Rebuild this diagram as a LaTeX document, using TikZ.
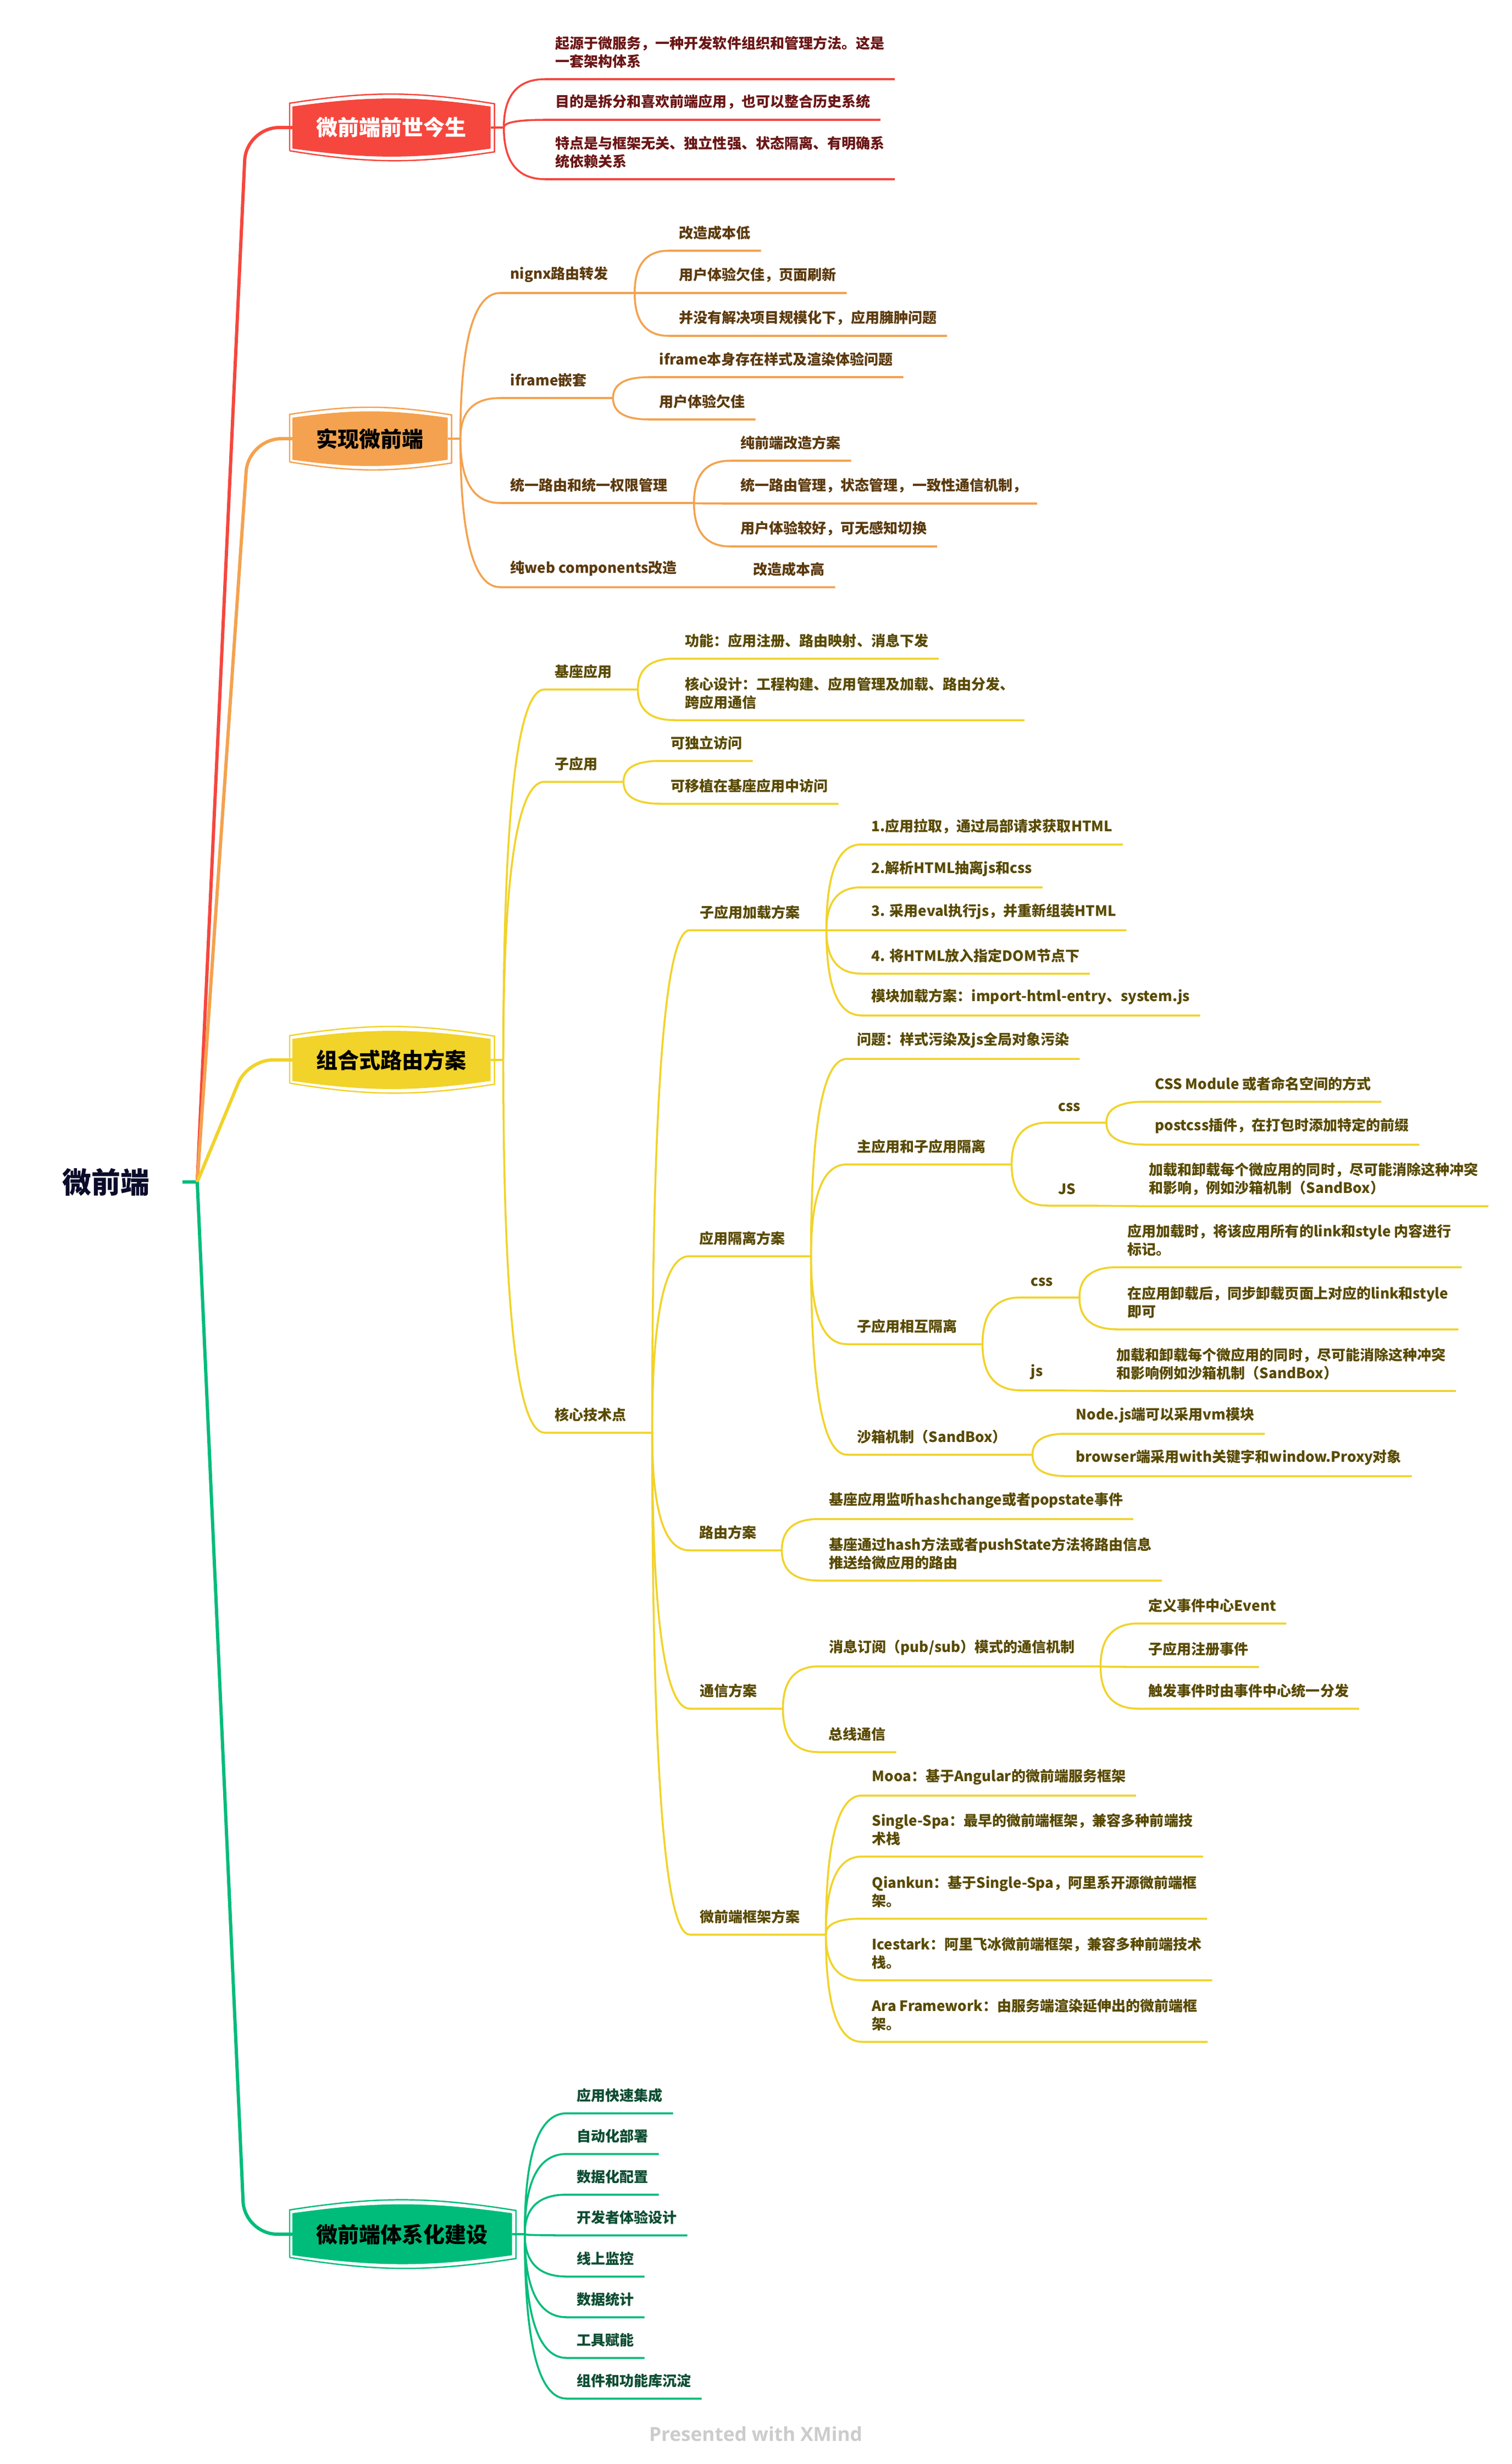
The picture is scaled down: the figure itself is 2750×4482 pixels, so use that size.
\documentclass[tikz,border=0pt]{standalone}
\usepackage{fontspec}
\setmainfont{Noto Sans CJK SC}
\newfontfamily\markfont{Open Sans}
\usepackage{tikz}
\usetikzlibrary{calc,backgrounds}
\definecolor{redline}{HTML}{F5473E}
\definecolor{orangeline}{HTML}{F4A24F}
\definecolor{yellowline}{HTML}{F1D32A}
\definecolor{greenline}{HTML}{00BC7B}
\definecolor{redtext}{HTML}{6B1616}
\definecolor{orangetext}{HTML}{5C3A0E}
\definecolor{yellowtext}{HTML}{594A00}
\definecolor{greentext}{HTML}{0D4D32}
\definecolor{roottext}{HTML}{0B0B2B}
\definecolor{marktext}{HTML}{CCCCCC}

\begin{document}
\begin{tikzpicture}[x=0.01cm, y=-0.01cm,
    topic/.style={anchor=south west, inner xsep=0.18cm, inner ysep=0.19cm, align=left, font=\fontsize{7.4pt}{9.4pt}\selectfont\bfseries},
    rtopic/.style={topic, text=redtext},
    otopic/.style={topic, text=orangetext},
    ytopic/.style={topic, text=yellowtext},
    gtopic/.style={topic, text=greentext},
    main/.style={anchor=west, inner xsep=0.43cm, inner ysep=0pt, minimum height=0.75cm, font=\fontsize{11.1pt}{13pt}\selectfont\bfseries},
    sketch/.style={line width=0.7pt},
    rbr/.style={draw=redline, line width=1pt},
    obr/.style={draw=orangeline, line width=1pt},
    ybr/.style={draw=yellowline, line width=1pt},
    gbr/.style={draw=greenline, line width=1pt},
    trunk/.style={line width=1.7pt, rounded corners=0.6cm},
    link/.style={to path={.. controls ($(\tikztostart)!0.6667!(\tikztostart|-\tikztotarget)$) and ($(\tikztotarget)!0.6667!(\tikztostart|-\tikztotarget)$) .. (\tikztotarget)}}]

    \begin{scope}[on background layer]
      \fill[white] (0,0) rectangle (2750,4482);
    \end{scope}
    \useasboundingbox (0,0) rectangle (2750,4482);

    \node[font=\fontsize{15pt}{18pt}\selectfont\bfseries, text=roottext, inner xsep=0.59cm] (root) at (193,2150) {微前端};
    \coordinate (rootj) at ([xshift=0.27cm]root.east);

    \node[main, text=white] (R0) at (532,232) {微前端前世今生};
    \node[main] (O0) at (532,798) {实现微前端};
    \node[main] (Y0) at (532,1928) {组合式路由方案};
    \node[main] (G0) at (532,4064) {微前端体系化建设};

    \begin{scope}[on background layer]
      \fill[redline] (R0.south west) -- (R0.north west) to[bend left=8] (R0.north east) -- (R0.south east) to[bend left=8] (R0.south west);
      \fill[orangeline] (O0.south west) -- (O0.north west) to[bend left=8] (O0.north east) -- (O0.south east) to[bend left=8] (O0.south west);
      \fill[yellowline] (Y0.south west) -- (Y0.north west) to[bend left=8] (Y0.north east) -- (Y0.south east) to[bend left=8] (Y0.south west);
      \fill[greenline] (G0.south west) -- (G0.north west) to[bend left=8] (G0.north east) -- (G0.south east) to[bend left=8] (G0.south west);
      \draw[redline, sketch] ([shift={(-0.05cm,-0.04cm)}]R0.south west) -- ([shift={(-0.05cm,0.06cm)}]R0.north west) to[bend left=9] ([shift={(0.07cm,0.05cm)}]R0.north east) -- ([shift={(0.07cm,-0.06cm)}]R0.south east) to[bend left=9] ([shift={(-0.05cm,-0.04cm)}]R0.south west);
      \draw[orangeline, sketch] ([shift={(-0.05cm,-0.04cm)}]O0.south west) -- ([shift={(-0.05cm,0.06cm)}]O0.north west) to[bend left=9] ([shift={(0.07cm,0.05cm)}]O0.north east) -- ([shift={(0.07cm,-0.06cm)}]O0.south east) to[bend left=9] ([shift={(-0.05cm,-0.04cm)}]O0.south west);
      \draw[yellowline, sketch] ([shift={(-0.05cm,-0.04cm)}]Y0.south west) -- ([shift={(-0.05cm,0.06cm)}]Y0.north west) to[bend left=9] ([shift={(0.07cm,0.05cm)}]Y0.north east) -- ([shift={(0.07cm,-0.06cm)}]Y0.south east) to[bend left=9] ([shift={(-0.05cm,-0.04cm)}]Y0.south west);
      \draw[greenline, sketch] ([shift={(-0.05cm,-0.04cm)}]G0.south west) -- ([shift={(-0.05cm,0.06cm)}]G0.north west) to[bend left=9] ([shift={(0.07cm,0.05cm)}]G0.north east) -- ([shift={(0.07cm,-0.06cm)}]G0.south east) to[bend left=9] ([shift={(-0.05cm,-0.04cm)}]G0.south west);
    \end{scope}

    \draw[greenline, line width=1.7pt] (root.east) -- (rootj);
    \draw[redline, trunk] (rootj) -- ([xshift=-0.84cm]R0.west) -- (R0.west);
    \draw[orangeline, trunk] (rootj) -- ([xshift=-0.80cm]O0.west) -- (O0.west);
    \draw[yellowline, trunk, rounded corners=0.45cm] (rootj) -- ([xshift=-0.81cm]Y0.west) -- (Y0.west);
    \draw[greenline, trunk] (rootj) -- ([xshift=-0.87cm]G0.west) -- (G0.west);

    % 微前端前世今生
    \coordinate (jR) at ([xshift=0.24cm]R0.east);
    \node[rtopic] (r1) at (992,144) {起源于微服务，一种开发软件组织和管理方法。这是\\一套架构体系};
    \node[rtopic] (r2) at (992,218) {目的是拆分和喜欢前端应用，也可以整合历史系统};
    \node[rtopic] (r3) at (992,326) {特点是与框架无关、独立性强、状态隔离、有明确系\\统依赖关系};

    \draw[rbr] (R0.east) -- (jR);
    \draw[rbr] (jR) to[link] (r1.south west) -- (r1.south east);
    \draw[rbr] (jR) to[link] (r2.south west) -- (r2.south east);
    \draw[rbr] (jR) to[link] (r3.south west) -- (r3.south east);

    % 实现微前端
    \coordinate (jO) at ([xshift=0.23cm]O0.east);
    \node[otopic] (o1) at (910,533) {nignx路由转发};
    \coordinate (jo1) at ([xshift=0.29cm]o1.south east);
    \node[otopic] (o11) at (1217,456) {改造成本低};
    \node[otopic] (o12) at (1217,533) {用户体验欠佳，页面刷新};
    \node[otopic] (o13) at (1217,611) {并没有解决项目规模化下，应用臃肿问题};
    \node[otopic] (o2) at (910,724) {iframe嵌套};
    \coordinate (jo2) at ([xshift=0.29cm]o2.south east);
    \node[otopic] (o21) at (1181,686) {iframe本身存在样式及渲染体验问题};
    \node[otopic] (o22) at (1181,763) {用户体验欠佳};
    \node[otopic] (o3) at (910,915) {统一路由和统一权限管理};
    \coordinate (jo3) at ([xshift=0.29cm]o3.south east);
    \node[otopic] (o31) at (1329,838) {纯前端改造方案};
    \node[otopic] (o32) at (1329,916) {统一路由管理，状态管理，一致性通信机制，};
    \node[otopic] (o33) at (1329,994) {用户体验较好，可无感知切换};
    \node[otopic] (o4) at (910,1068) {纯web components改造};
    \node[otopic] (o41) at (1352,1068) {改造成本高};

    \draw[obr] (O0.east) -- (jO);
    \draw[obr] (jO) to[link] (o1.south west) -- (o1.south east) -- (jo1);
    \draw[obr] (jo1) to[link] (o11.south west) -- (o11.south east);
    \draw[obr] (jo1) to[link] (o12.south west) -- (o12.south east);
    \draw[obr] (jo1) to[link] (o13.south west) -- (o13.south east);
    \draw[obr] (jO) to[link] (o2.south west) -- (o2.south east) -- (jo2);
    \draw[obr] (jo2) to[link] (o21.south west) -- (o21.south east);
    \draw[obr] (jo2) to[link] (o22.south west) -- (o22.south east);
    \draw[obr] (jO) to[link] (o3.south west) -- (o3.south east) -- (jo3);
    \draw[obr] (jo3) to[link] (o31.south west) -- (o31.south east);
    \draw[obr] (jo3) to[link] (o32.south west) -- (o32.south east);
    \draw[obr] (jo3) to[link] (o33.south west) -- (o33.south east);
    \draw[obr] (jO) to[link] (o4.south west) -- (o4.south east) -- (o41.south west) -- (o41.south east);

    % 组合式路由方案
    \coordinate (jY) at ([xshift=0.23cm]Y0.east);
    \node[ytopic] (y1) at (991,1254) {基座应用};
    \coordinate (jy1) at ([xshift=0.28cm]y1.south east);
    \node[ytopic] (y11) at (1228,1198) {功能：应用注册、路由映射、消息下发};
    \node[ytopic] (y12) at (1228,1310) {核心设计：工程构建、应用管理及加载、路由分发、\\跨应用通信};
    \node[ytopic] (y2) at (991,1422) {子应用};
    \coordinate (jy2) at ([xshift=0.28cm]y2.south east);
    \node[ytopic] (y21) at (1202,1384) {可独立访问};
    \node[ytopic] (y22) at (1202,1462) {可移植在基座应用中访问};
    \node[ytopic] (y3) at (991,2606) {核心技术点};
    \coordinate (jy3) at ([xshift=0.28cm]y3.south east);

    \node[ytopic] (y31) at (1255,1692) {子应用加载方案};
    \coordinate (jy31) at ([xshift=0.29cm]y31.south east);
    \node[ytopic] (y311) at (1567,1536) {1.应用拉取，通过局部请求获取HTML};
    \node[ytopic] (y312) at (1567,1614) {2.解析HTML抽离js和css};
    \node[ytopic] (y313) at (1567,1692) {3. 采用eval执行js，并重新组装HTML};
    \node[ytopic] (y314) at (1567,1771) {4. 将HTML放入指定DOM节点下};
    \node[ytopic] (y315) at (1567,1847) {模块加载方案：import-html-entry、system.js};

    \node[ytopic] (y32) at (1254,2285) {应用隔离方案};
    \coordinate (jy32) at ([xshift=0.28cm]y32.south east);
    \node[ytopic] (y321) at (1541,1926) {问题：样式污染及js全局对象污染};
    \node[ytopic] (y322) at (1541,2118) {主应用和子应用隔离};
    \coordinate (jy322) at ([xshift=0.28cm]y322.south east);
    \node[ytopic] (y3221) at (1907,2042) {css};
    \coordinate (jy3221) at ([xshift=0.28cm]y3221.south east);
    \node[ytopic] (y32211) at (2083,2004) {CSS Module 或者命名空间的方式};
    \node[ytopic] (y32212) at (2083,2082) {postcss插件，在打包时添加特定的前缀};
    \node[ytopic] (y3222) at (1907,2193) {JS};
    \node[ytopic] (y32221) at (2072,2194) {加载和卸载每个微应用的同时，尽可能消除这种冲突\\和影响，例如沙箱机制（SandBox）};
    \node[ytopic] (y323) at (1541,2445) {子应用相互隔离};
    \coordinate (jy323) at ([xshift=0.27cm]y323.south east);
    \node[ytopic] (y3231) at (1857,2360) {css};
    \coordinate (jy3231) at ([xshift=0.29cm]y3231.south east);
    \node[ytopic] (y32311) at (2033,2305) {应用加载时，将该应用所有的link和style 内容进行\\标记。};
    \node[ytopic] (y32312) at (2033,2418) {在应用卸载后，同步卸载页面上对应的link和style\\即可};
    \node[ytopic] (y3232) at (1857,2529) {js};
    \node[ytopic] (y32321) at (2013,2530) {加载和卸载每个微应用的同时，尽可能消除这种冲突\\和影响例如沙箱机制（SandBox）};
    \node[ytopic] (y324) at (1541,2646) {沙箱机制（SandBox）};
    \coordinate (jy324) at ([xshift=0.28cm]y324.south east);
    \node[ytopic] (y3241) at (1939,2608) {Node.js端可以采用vm模块};
    \node[ytopic] (y3242) at (1939,2685) {browser端采用with关键字和window.Proxy对象};

    \node[ytopic] (y33) at (1254,2820) {路由方案};
    \coordinate (jy33) at ([xshift=0.27cm]y33.south east);
    \node[ytopic] (y331) at (1490,2763) {基座应用监听hashchange或者popstate事件};
    \node[ytopic] (y332) at (1490,2875) {基座通过hash方法或者pushState方法将路由信息\\推送给微应用的路由};

    \node[ytopic] (y34) at (1255,3108) {通信方案};
    \coordinate (jy34) at ([xshift=0.28cm]y34.south east);
    \node[ytopic] (y341) at (1490,3031) {消息订阅（pub/sub）模式的通信机制};
    \coordinate (jy341) at ([xshift=0.28cm]y341.south east);
    \node[ytopic] (y3411) at (2071,2953) {定义事件中心Event};
    \node[ytopic] (y3412) at (2071,3032) {子应用注册事件};
    \node[ytopic] (y3413) at (2071,3108) {触发事件时由事件中心统一分发};
    \node[ytopic] (y342) at (1489,3187) {总线通信};

    \node[ytopic] (y35) at (1255,3519) {微前端框架方案};
    \coordinate (jy35) at ([xshift=0.28cm]y35.south east);
    \node[ytopic] (y351) at (1568,3266) {Mooa：基于Angular的微前端服务框架};
    \node[ytopic] (y352) at (1568,3377) {Single-Spa：最早的微前端框架，兼容多种前端技\\术栈};
    \node[ytopic] (y353) at (1568,3490) {Qiankun：基于Single-Spa，阿里系开源微前端框\\架。};
    \node[ytopic] (y354) at (1568,3602) {Icestark：阿里飞冰微前端框架，兼容多种前端技术\\栈。};
    \node[ytopic] (y355) at (1568,3714) {Ara Framework：由服务端渲染延伸出的微前端框\\架。};

    \draw[ybr] (Y0.east) -- (jY);
    \draw[ybr] (jY) to[link] (y1.south west) -- (y1.south east) -- (jy1);
    \draw[ybr] (jy1) to[link] (y11.south west) -- (y11.south east);
    \draw[ybr] (jy1) to[link] (y12.south west) -- (y12.south east);
    \draw[ybr] (jY) to[link] (y2.south west) -- (y2.south east) -- (jy2);
    \draw[ybr] (jy2) to[link] (y21.south west) -- (y21.south east);
    \draw[ybr] (jy2) to[link] (y22.south west) -- (y22.south east);
    \draw[ybr] (jY) to[link] (y3.south west) -- (y3.south east) -- (jy3);

    \draw[ybr] (jy3) to[link] (y31.south west) -- (y31.south east) -- (jy31);
    \draw[ybr] (jy31) to[link] (y311.south west) -- (y311.south east);
    \draw[ybr] (jy31) to[link] (y312.south west) -- (y312.south east);
    \draw[ybr] (jy31) to[link] (y313.south west) -- (y313.south east);
    \draw[ybr] (jy31) to[link] (y314.south west) -- (y314.south east);
    \draw[ybr] (jy31) to[link] (y315.south west) -- (y315.south east);

    \draw[ybr] (jy3) to[link] (y32.south west) -- (y32.south east) -- (jy32);
    \draw[ybr] (jy32) to[link] (y321.south west) -- (y321.south east);
    \draw[ybr] (jy32) to[link] (y322.south west) -- (y322.south east) -- (jy322);
    \draw[ybr] (jy322) to[link] (y3221.south west) -- (y3221.south east) -- (jy3221);
    \draw[ybr] (jy3221) to[link] (y32211.south west) -- (y32211.south east);
    \draw[ybr] (jy3221) to[link] (y32212.south west) -- (y32212.south east);
    \draw[ybr] (jy322) to[link] (y3222.south west) -- (y3222.south east) -- (y32221.south west) -- (y32221.south east);
    \draw[ybr] (jy32) to[link] (y323.south west) -- (y323.south east) -- (jy323);
    \draw[ybr] (jy323) to[link] (y3231.south west) -- (y3231.south east) -- (jy3231);
    \draw[ybr] (jy3231) to[link] (y32311.south west) -- (y32311.south east);
    \draw[ybr] (jy3231) to[link] (y32312.south west) -- (y32312.south east);
    \draw[ybr] (jy323) to[link] (y3232.south west) -- (y3232.south east) -- (y32321.south west) -- (y32321.south east);
    \draw[ybr] (jy32) to[link] (y324.south west) -- (y324.south east) -- (jy324);
    \draw[ybr] (jy324) to[link] (y3241.south west) -- (y3241.south east);
    \draw[ybr] (jy324) to[link] (y3242.south west) -- (y3242.south east);

    \draw[ybr] (jy3) to[link] (y33.south west) -- (y33.south east) -- (jy33);
    \draw[ybr] (jy33) to[link] (y331.south west) -- (y331.south east);
    \draw[ybr] (jy33) to[link] (y332.south west) -- (y332.south east);

    \draw[ybr] (jy3) to[link] (y34.south west) -- (y34.south east) -- (jy34);
    \draw[ybr] (jy34) to[link] (y341.south west) -- (y341.south east) -- (jy341);
    \draw[ybr] (jy341) to[link] (y3411.south west) -- (y3411.south east);
    \draw[ybr] (jy341) to[link] (y3412.south west) -- (y3412.south east);
    \draw[ybr] (jy341) to[link] (y3413.south west) -- (y3413.south east);
    \draw[ybr] (jy34) to[link] (y342.south west) -- (y342.south east);

    \draw[ybr] (jy3) to[link] (y35.south west) -- (y35.south east) -- (jy35);
    \draw[ybr] (jy35) to[link] (y351.south west) -- (y351.south east);
    \draw[ybr] (jy35) to[link] (y352.south west) -- (y352.south east);
    \draw[ybr] (jy35) to[link] (y353.south west) -- (y353.south east);
    \draw[ybr] (jy35) to[link] (y354.south west) -- (y354.south east);
    \draw[ybr] (jy35) to[link] (y355.south west) -- (y355.south east);

    % 微前端体系化建设
    \coordinate (jG) at ([xshift=0.23cm]G0.east);
    \node[gtopic] (g1) at (1031,3844) {应用快速集成};
    \node[gtopic] (g2) at (1031,3918) {自动化部署};
    \node[gtopic] (g3) at (1031,3992) {数据化配置};
    \node[gtopic] (g4) at (1031,4066) {开发者体验设计};
    \node[gtopic] (g5) at (1031,4141) {线上监控};
    \node[gtopic] (g6) at (1031,4215) {数据统计};
    \node[gtopic] (g7) at (1031,4289) {工具赋能};
    \node[gtopic] (g8) at (1031,4363) {组件和功能库沉淀};

    \draw[gbr] (G0.east) -- (jG);
    \draw[gbr] (jG) to[link] (g1.south west) -- (g1.south east);
    \draw[gbr] (jG) to[link] (g2.south west) -- (g2.south east);
    \draw[gbr] (jG) to[link] (g3.south west) -- (g3.south east);
    \draw[gbr] (jG) to[link] (g4.south west) -- (g4.south east);
    \draw[gbr] (jG) to[link] (g5.south west) -- (g5.south east);
    \draw[gbr] (jG) to[link] (g6.south west) -- (g6.south east);
    \draw[gbr] (jG) to[link] (g7.south west) -- (g7.south east);
    \draw[gbr] (jG) to[link] (g8.south west) -- (g8.south east);

    \node[font=\markfont\bfseries\fontsize{10pt}{12pt}\selectfont, text=marktext] (mark) at (1375,4427) {Presented with XMind};

\end{tikzpicture}
\end{document}
